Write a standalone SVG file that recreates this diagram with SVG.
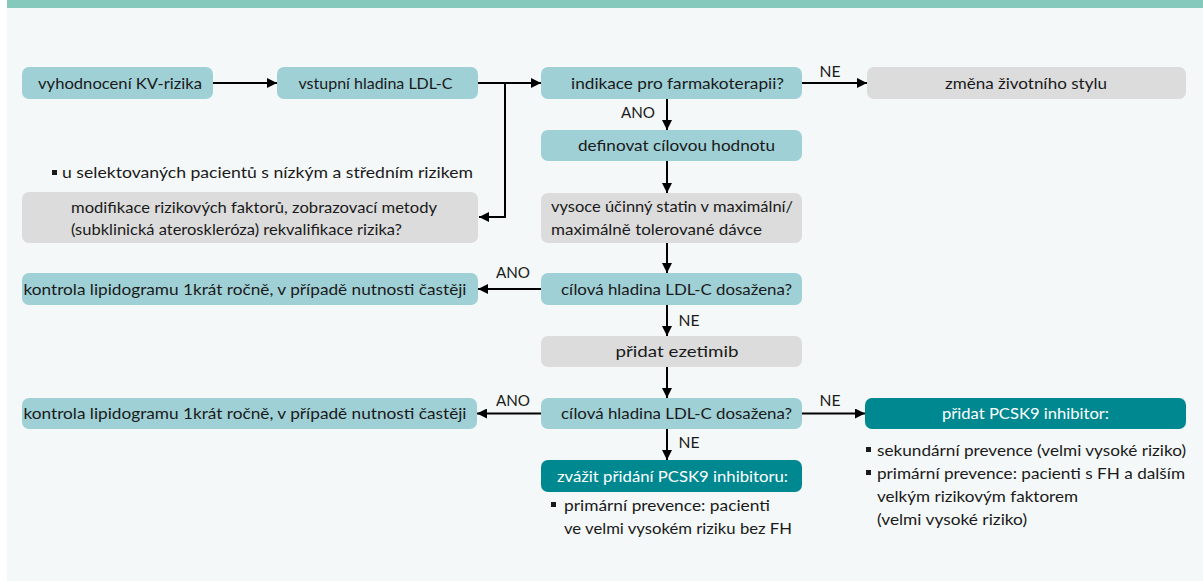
<svg xmlns="http://www.w3.org/2000/svg" width="1203" height="581" viewBox="0 0 1203 581">
<defs>
<style>
.bg{fill:#f4f8f8}
.bar{fill:#84c9bb}
.lt{fill:#9fd0d6}
.gr{fill:#dcdcdc}
.dk{fill:#008891}
text{font-family:Lato,"Liberation Sans",sans-serif;font-size:16px;fill:#1a1a1a}
.w{fill:#ffffff}
.c{text-anchor:middle}
.ln{stroke:#000;stroke-width:2;fill:none}
.arr{marker-end:url(#ah)}
.sq{fill:#1a1a1a}
</style>
<marker id="ah" markerUnits="userSpaceOnUse" markerWidth="10" markerHeight="10" refX="10" refY="5" orient="auto">
<path d="M0,0 L10,5 L0,10 z" fill="#000"/>
</marker>
</defs>
<rect x="7" y="0" width="1196" height="581" class="bg"/>
<rect x="7" y="0" width="1196" height="8" class="bar"/>

<g id="connectors">
<line x1="213" y1="83" x2="277" y2="83" class="ln arr"/>
<line x1="478" y1="83" x2="541" y2="83" class="ln arr"/>
<polyline points="505,83 505,217 479,217" class="ln arr"/>
<line x1="802" y1="83" x2="867" y2="83" class="ln arr"/>
<text x="830" y="77" class="c" textLength="21" lengthAdjust="spacingAndGlyphs">NE</text>
<line x1="667" y1="99" x2="667" y2="130" class="ln arr"/>
<text x="638" y="118" class="c" textLength="34" lengthAdjust="spacingAndGlyphs">ANO</text>
<line x1="667" y1="161" x2="667" y2="193" class="ln arr"/>
<line x1="667" y1="243" x2="667" y2="273" class="ln arr"/>
<line x1="541" y1="289" x2="478" y2="289" class="ln arr"/>
<text x="513" y="278" class="c" textLength="34" lengthAdjust="spacingAndGlyphs">ANO</text>
<line x1="667" y1="305" x2="667" y2="336" class="ln arr"/>
<text x="689" y="326" class="c" textLength="21" lengthAdjust="spacingAndGlyphs">NE</text>
<line x1="667" y1="367" x2="667" y2="398" class="ln arr"/>
<line x1="541" y1="413.5" x2="477" y2="413.5" class="ln arr"/>
<text x="513" y="406" class="c" textLength="34" lengthAdjust="spacingAndGlyphs">ANO</text>
<line x1="802" y1="413.5" x2="865" y2="413.5" class="ln arr"/>
<text x="830" y="406" class="c" textLength="21" lengthAdjust="spacingAndGlyphs">NE</text>
<line x1="667" y1="429" x2="667" y2="460" class="ln arr"/>
<text x="689" y="448" class="c" textLength="21" lengthAdjust="spacingAndGlyphs">NE</text>
</g>

<g id="n-vyhodnoceni">
<rect x="22" y="67" width="191" height="32" rx="7" class="lt"/>
<text x="120" y="88.5" class="c" textLength="164" lengthAdjust="spacingAndGlyphs">vyhodnocení KV-rizika</text>
</g>
<g id="n-vstupni">
<rect x="277" y="67" width="201" height="32" rx="7" class="lt"/>
<text x="375.5" y="88.5" class="c" textLength="154" lengthAdjust="spacingAndGlyphs">vstupní hladina LDL-C</text>
</g>
<g id="n-indikace">
<rect x="541" y="67" width="261" height="32" rx="7" class="lt"/>
<text x="677.5" y="88.5" class="c" textLength="213" lengthAdjust="spacingAndGlyphs">indikace pro farmakoterapii?</text>
</g>
<g id="n-zmena">
<rect x="867" y="67" width="319" height="32" rx="7" class="gr"/>
<text x="1026" y="88.5" class="c" textLength="162" lengthAdjust="spacingAndGlyphs">změna životního stylu</text>
</g>
<g id="n-definovat">
<rect x="541" y="130" width="261" height="31" rx="7" class="lt"/>
<text x="676.5" y="151" class="c" textLength="197" lengthAdjust="spacingAndGlyphs">definovat cílovou hodnotu</text>
</g>
<g id="n-poznamka">
<rect x="52" y="170" width="5" height="5" class="sq"/>
<text x="62" y="178" textLength="411" lengthAdjust="spacingAndGlyphs">u selektovaných pacientů s nízkým a středním rizikem</text>
</g>
<g id="n-modifikace">
<rect x="22" y="192" width="456" height="51" rx="7" class="gr"/>
<text x="71" y="212.5" textLength="366" lengthAdjust="spacingAndGlyphs">modifikace rizikových faktorů, zobrazovací metody</text>
<text x="71" y="234.5" textLength="331" lengthAdjust="spacingAndGlyphs">(subklinická ateroskleróza) rekvalifikace rizika?</text>
</g>
<g id="n-statin">
<rect x="541" y="193" width="261" height="50" rx="7" class="gr"/>
<text x="551" y="211.5" textLength="242" lengthAdjust="spacingAndGlyphs">vysoce účinný statin v maximální/</text>
<text x="551" y="234.5" textLength="211" lengthAdjust="spacingAndGlyphs">maximálně tolerované dávce</text>
</g>
<g id="n-kontrola1">
<rect x="22" y="273" width="456" height="32" rx="7" class="lt"/>
<text x="245" y="294.5" class="c" textLength="443" lengthAdjust="spacingAndGlyphs">kontrola lipidogramu 1krát ročně, v případě nutnosti častěji</text>
</g>
<g id="n-cilova1">
<rect x="541" y="273" width="261" height="32" rx="7" class="lt"/>
<text x="676.5" y="294.5" class="c" textLength="231" lengthAdjust="spacingAndGlyphs">cílová hladina LDL-C dosažena?</text>
</g>
<g id="n-ezetimib">
<rect x="541" y="336" width="261" height="31" rx="7" class="gr"/>
<text x="677" y="357" class="c" textLength="123" lengthAdjust="spacingAndGlyphs">přidat ezetimib</text>
</g>
<g id="n-kontrola2">
<rect x="22" y="398" width="455" height="31" rx="7" class="lt"/>
<text x="245" y="419" class="c" textLength="443" lengthAdjust="spacingAndGlyphs">kontrola lipidogramu 1krát ročně, v případě nutnosti častěji</text>
</g>
<g id="n-cilova2">
<rect x="541" y="398" width="261" height="31" rx="7" class="lt"/>
<text x="676.5" y="419" class="c" textLength="231" lengthAdjust="spacingAndGlyphs">cílová hladina LDL-C dosažena?</text>
</g>
<g id="n-pcsk9">
<rect x="865" y="398" width="321" height="31" rx="7" class="dk"/>
<text x="1025.5" y="419" class="c w" textLength="167" lengthAdjust="spacingAndGlyphs">přidat PCSK9 inhibitor:</text>
<rect x="866" y="447" width="5" height="5" class="sq"/>
<text x="877" y="455.5" textLength="309" lengthAdjust="spacingAndGlyphs">sekundární prevence (velmi vysoké riziko)</text>
<rect x="866" y="470" width="5" height="5" class="sq"/>
<text x="877" y="478.5" textLength="308" lengthAdjust="spacingAndGlyphs">primární prevence: pacienti s FH a dalším</text>
<text x="877" y="502" textLength="201" lengthAdjust="spacingAndGlyphs">velkým rizikovým faktorem</text>
<text x="877" y="524.5" textLength="150" lengthAdjust="spacingAndGlyphs">(velmi vysoké riziko)</text>
</g>
<g id="n-zvazit">
<rect x="541" y="460" width="261" height="32" rx="7" class="dk"/>
<text x="672.5" y="481.5" class="c w" textLength="231" lengthAdjust="spacingAndGlyphs">zvážit přidání PCSK9 inhibitoru:</text>
<rect x="551" y="502" width="5" height="5" class="sq"/>
<text x="564" y="510.5" textLength="206" lengthAdjust="spacingAndGlyphs">primární prevence: pacienti</text>
<text x="564" y="533.5" textLength="228" lengthAdjust="spacingAndGlyphs">ve velmi vysokém riziku bez FH</text>
</g>
</svg>
